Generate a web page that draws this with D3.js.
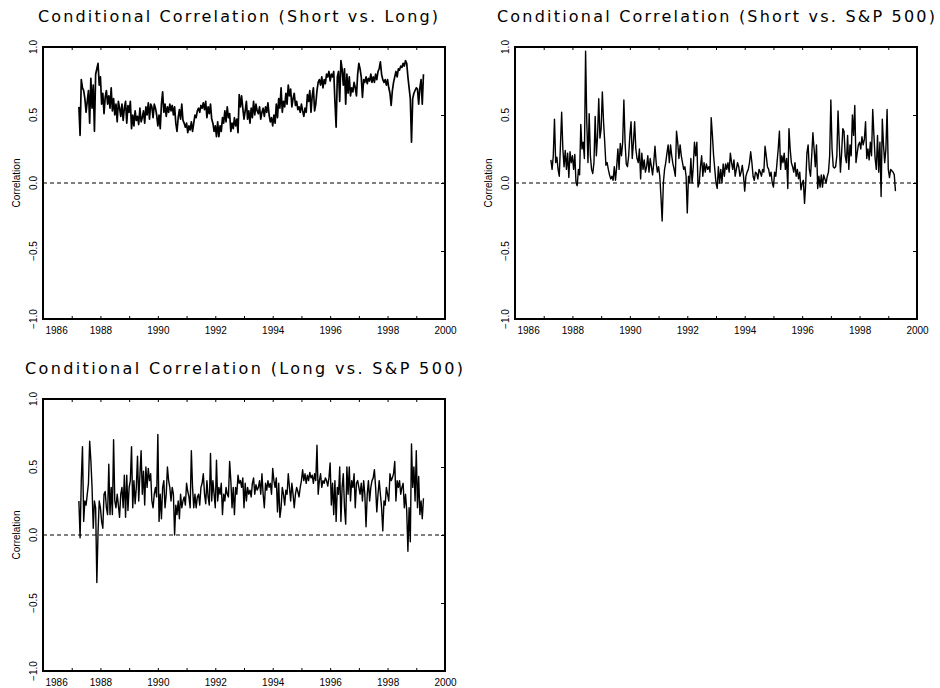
<!DOCTYPE html>
<html>
<head>
<meta charset="utf-8">
<script src="https://cdn.jsdelivr.net/npm/d3@7"></script>
<style>
  body { margin: 0; background: #fff; }
  svg text { font-family: "Liberation Sans", Arial, sans-serif; fill: #000; }
</style>
</head>
<body>
<div id="chart"></div>
<script>
//Size of the page
var width = 940,
  height = 688;

//Time axis: 24 observations a year, first one in spring 1987
var startYear = 1987.25,
  step = 1 / 24;
var yearTicks = d3.range(1986, 2001);
var corrTicks = [-1, -0.5, 0, 0.5, 1];

//Conditional correlation, short vs. long
var shortLong = [
  0.56, 0.35, 0.76, 0.70, 0.68, 0.62, 0.52, 0.60, 0.68, 0.44, 0.77, 0.55, 0.72, 0.38, 0.80, 0.84, 0.88, 0.72,
  0.78, 0.58, 0.66, 0.51, 0.63, 0.68, 0.58, 0.64, 0.55, 0.70, 0.53, 0.62,
  0.50, 0.58, 0.45, 0.60, 0.55, 0.49, 0.58, 0.46, 0.55, 0.60, 0.44, 0.57,
  0.52, 0.60, 0.40, 0.50, 0.42, 0.53, 0.46, 0.49, 0.43, 0.55, 0.45, 0.48,
  0.53, 0.44, 0.56, 0.50, 0.59, 0.47, 0.58, 0.56, 0.48, 0.58, 0.55, 0.50,
  0.42, 0.50, 0.40, 0.58, 0.67, 0.52, 0.58, 0.49, 0.56, 0.52, 0.58, 0.53,
  0.57, 0.50, 0.56, 0.44, 0.38, 0.48, 0.54, 0.47, 0.58, 0.46, 0.44, 0.41,
  0.44, 0.37, 0.42, 0.39, 0.45, 0.38, 0.44, 0.50, 0.48, 0.53, 0.55, 0.52,
  0.57, 0.55, 0.59, 0.54, 0.60, 0.48, 0.56, 0.51, 0.58, 0.47, 0.44, 0.38,
  0.42, 0.34, 0.45, 0.34, 0.42, 0.38, 0.48, 0.44, 0.53, 0.45, 0.56, 0.48,
  0.51, 0.38, 0.44, 0.40, 0.48, 0.42, 0.47, 0.37, 0.65, 0.56, 0.64, 0.55,
  0.47, 0.53, 0.60, 0.47, 0.53, 0.44, 0.55, 0.48, 0.60, 0.50, 0.58, 0.53,
  0.51, 0.56, 0.47, 0.52, 0.55, 0.49, 0.56, 0.52, 0.59, 0.50, 0.45, 0.48,
  0.42, 0.50, 0.44, 0.58, 0.48, 0.62, 0.55, 0.70, 0.52, 0.60, 0.56, 0.66,
  0.58, 0.72, 0.64, 0.69, 0.56, 0.62, 0.66, 0.57, 0.60, 0.54, 0.56, 0.52,
  0.58, 0.53, 0.49, 0.55, 0.52, 0.65, 0.60, 0.68, 0.52, 0.64, 0.70, 0.53,
  0.58, 0.68, 0.74, 0.76, 0.72, 0.78, 0.70, 0.76, 0.73, 0.80, 0.78, 0.82,
  0.75, 0.80, 0.78, 0.82, 0.60, 0.41, 0.78, 0.82, 0.60, 0.90, 0.84, 0.72,
  0.84, 0.58, 0.80, 0.66, 0.78, 0.64, 0.70, 0.67, 0.74, 0.70, 0.64, 0.80,
  0.88, 0.84, 0.78, 0.63, 0.76, 0.74, 0.78, 0.73, 0.77, 0.75, 0.80, 0.74,
  0.78, 0.74, 0.80, 0.76, 0.82, 0.84, 0.89, 0.80, 0.76, 0.74, 0.76, 0.72,
  0.76, 0.70, 0.66, 0.57, 0.68, 0.74, 0.78, 0.82, 0.78, 0.84, 0.83, 0.86,
  0.85, 0.88, 0.86, 0.90, 0.88, 0.78, 0.70, 0.62, 0.30, 0.62, 0.66, 0.68,
  0.70, 0.69, 0.58, 0.70, 0.76, 0.58, 0.80
];

//Conditional correlation, short vs. S&P 500
var shortSP = [
  0.17, 0.10, 0.20, 0.47, 0.15, 0.19, 0.10, 0.05, 0.28, 0.52, 0.25, 0.12, 0.24, 0.10, 0.22, 0.04, 0.23, 0.15,
  0.20, 0.10, 0.21, 0.00, -0.02, 0.10, 0.06, 0.43, 0.25, 0.30, 0.18, 0.97,
  0.45, 0.15, 0.51, 0.20, 0.10, 0.07, 0.15, 0.49, 0.20, 0.35, 0.62, 0.33,
  0.40, 0.67, 0.45, 0.30, 0.13, 0.15, 0.10, 0.06, 0.03, 0.05, 0.02, 0.12,
  0.02, 0.12, 0.25, 0.10, 0.29, 0.20, 0.30, 0.61, 0.30, 0.14, 0.12, 0.20,
  0.35, 0.45, 0.18, 0.30, 0.45, 0.25, 0.18, 0.15, 0.25, 0.03, 0.22, 0.10,
  0.17, 0.08, 0.12, 0.20, 0.08, 0.18, 0.12, 0.06, 0.15, 0.27, 0.15, 0.08,
  0.12, 0.05, -0.10, -0.28, 0.00, 0.10, 0.15, 0.22, 0.28, 0.15, 0.28, 0.20,
  0.14, 0.10, 0.05, 0.38, 0.30, 0.18, 0.28, 0.20, 0.15, 0.10, 0.12, 0.05,
  -0.22, 0.05, 0.00, 0.18, 0.00, 0.12, 0.30, 0.20, 0.30, -0.03, 0.00, 0.12,
  0.20, 0.05, 0.15, 0.08, 0.14, 0.10, 0.12, 0.08, 0.48, 0.35, 0.20, 0.10,
  0.00, -0.04, 0.12, 0.00, 0.10, 0.00, 0.14, 0.05, 0.14, 0.10, 0.15, 0.08,
  0.22, 0.15, 0.10, 0.17, 0.05, 0.10, 0.15, 0.12, 0.05, 0.08, 0.13, 0.05,
  -0.06, 0.05, 0.08, 0.10, 0.15, 0.23, 0.15, 0.05, 0.02, 0.08, 0.07, 0.03,
  0.10, 0.08, 0.05, 0.10, 0.08, 0.27, 0.20, 0.12, 0.10, 0.05, 0.08, 0.00,
  -0.03, 0.08, 0.05, 0.15, 0.25, 0.38, 0.10, 0.20, 0.15, 0.22, 0.10, 0.18,
  -0.04, 0.40, 0.25, 0.15, 0.12, 0.08, 0.15, 0.05, 0.10, 0.03, 0.08, -0.05,
  0.00, 0.02, -0.15, 0.00, 0.22, 0.28, 0.10, 0.05, 0.20, 0.37, 0.25, 0.12,
  0.28, -0.04, 0.05, -0.03, 0.06, -0.03, 0.06, 0.03, 0.00, 0.05, 0.08, 0.20,
  0.61, 0.25, 0.12, 0.11, 0.12, 0.20, 0.53, 0.30, 0.08, 0.22, 0.40, 0.38,
  0.20, 0.15, 0.35, 0.10, 0.28, 0.20, 0.50, 0.35, 0.57, 0.15, 0.22, 0.28,
  0.30, 0.25, 0.34, 0.28, 0.32, 0.45, 0.18, 0.25, 0.17, 0.30, 0.20, 0.54,
  0.35, 0.18, 0.10, 0.35, 0.08, 0.30, -0.10, 0.47, 0.28, 0.15, 0.25, 0.54,
  0.10, 0.04, 0.10, 0.09, 0.08, 0.06, -0.06
];

//Conditional correlation, long vs. S&P 500
var longSP = [
  0.25, -0.02, 0.40, 0.65, 0.10, 0.25, 0.22, 0.30, 0.38, 0.69, 0.55, 0.35, 0.05, 0.25, 0.20, -0.35, 0.02, 0.25,
  0.20, 0.10, 0.05, 0.30, 0.32, 0.20, 0.15, 0.52, 0.15, 0.35, 0.15, 0.70,
  0.25, 0.20, 0.30, 0.22, 0.13, 0.30, 0.35, 0.20, 0.44, 0.13, 0.44, 0.18,
  0.35, 0.40, 0.65, 0.20, 0.40, 0.23, 0.35, 0.58, 0.25, 0.44, 0.62, 0.30,
  0.47, 0.22, 0.50, 0.35, 0.49, 0.40, 0.45, 0.25, 0.20, 0.30, 0.35, 0.28,
  0.74, 0.10, 0.30, 0.12, 0.35, 0.40, 0.20, 0.30, 0.50, 0.40, 0.35, 0.25,
  0.35, 0.30, 0.00, 0.22, 0.15, 0.25, 0.12, 0.30, 0.20, 0.25, 0.28, 0.22,
  0.38, 0.32, 0.28, 0.20, 0.62, 0.35, 0.20, 0.30, 0.20, 0.28, 0.30, 0.22,
  0.35, 0.38, 0.45, 0.30, 0.23, 0.40, 0.28, 0.22, 0.60, 0.25, 0.40, 0.30,
  0.20, 0.55, 0.25, 0.35, 0.30, 0.38, 0.15, 0.30, 0.25, 0.35, 0.30, 0.28,
  0.54, 0.40, 0.20, 0.35, 0.15, 0.35, 0.30, 0.44, 0.38, 0.40, 0.35, 0.42,
  0.20, 0.38, 0.25, 0.35, 0.30, 0.33, 0.28, 0.38, 0.42, 0.30, 0.37, 0.33,
  0.35, 0.40, 0.30, 0.45, 0.30, 0.20, 0.38, 0.33, 0.40, 0.35, 0.38, 0.30,
  0.49, 0.40, 0.35, 0.42, 0.17, 0.38, 0.13, 0.20, 0.35, 0.30, 0.22, 0.33,
  0.30, 0.45, 0.35, 0.25, 0.38, 0.30, 0.20, 0.30, 0.35, 0.32, 0.28, 0.35,
  0.40, 0.48, 0.40, 0.45, 0.38, 0.44, 0.40, 0.46, 0.42, 0.44, 0.38, 0.45,
  0.40, 0.66, 0.30, 0.40, 0.45, 0.35, 0.40, 0.38, 0.42, 0.40, 0.36, 0.42,
  0.53, 0.22, 0.38, 0.15, 0.40, 0.10, 0.35, 0.30, 0.50, 0.10, 0.35, 0.45,
  0.20, 0.08, 0.50, 0.30, 0.50, 0.25, 0.40, 0.35, 0.45, 0.20, 0.38, 0.40,
  0.35, 0.30, 0.38, 0.25, 0.40, 0.30, 0.06, 0.30, 0.40, 0.25, 0.35, 0.40,
  0.42, 0.48, 0.35, 0.17, 0.30, 0.40, 0.30, 0.20, 0.03, 0.25, 0.22, 0.35,
  0.30, 0.25, 0.45, 0.40, 0.42, 0.45, 0.54, 0.25, 0.40, 0.35, 0.40, 0.30,
  0.35, 0.38, 0.20, 0.30, 0.18, -0.12, 0.20, -0.05, 0.67, 0.35, 0.50, 0.25,
  0.62, 0.20, 0.43, 0.15, 0.25, 0.12, 0.27
];

var titles = [
  "Conditional Correlation (Short vs. Long)",
  "Conditional Correlation (Short vs. S&P 500)",
  "Conditional Correlation (Long vs. S&P 500)"
];

//Where each panel goes
var panels = [
  { title: titles[0], values: shortLong, left: 43, top: 47, titleX: 38, titleLen: 400, lw: 1.7 },
  { title: titles[1], values: shortSP, left: 515, top: 47, titleX: 497, titleLen: 438, lw: 1.4 },
  { title: titles[2], values: longSP, left: 43, top: 399, titleX: 25, titleLen: 438, lw: 1.4 }
];
var plotW = 402,
  plotH = 272;

var svg = d3
  .select("#chart")
  .append("svg")
  .attr("width", width)
  .attr("height", height);

var fmt = d3.format(".1f");

panels.forEach(function (p) {
  var x = d3.scaleLinear().domain([1986, 2000]).range([p.left, p.left + plotW]);
  var y = d3.scaleLinear().domain([-1, 1]).range([p.top + plotH, p.top]);
  var g = svg.append("g");

  //title
  g.append("text")
    .attr("x", p.titleX)
    .attr("y", p.top - 25)
    .attr("textLength", p.titleLen)
    .attr("lengthAdjust", "spacing")
    .style("font-family", "'DejaVu Sans', sans-serif")
    .style("font-size", "16px")
    .text(p.title);

  //ticks pointing into the box
  g.append("g")
    .attr("transform", "translate(0," + (p.top + plotH) + ")")
    .call(
      d3.axisBottom(x)
        .tickValues(yearTicks)
        .tickSize(-3)
        .tickPadding(8)
        .tickFormat(function (d) {
          return d % 2 === 0 ? d : "";
        })
    )
    .call(function (a) {
      a.select(".domain").remove();
      a.selectAll("text").style("font-size", "10px");
      //first label sits right of the corner
      a.selectAll("text")
        .filter(function (d) { return d === 1986; })
        .attr("text-anchor", "start")
        .attr("x", 2);
    });

  g.append("g")
    .attr("transform", "translate(0," + p.top + ")")
    .call(d3.axisTop(x).tickValues(yearTicks).tickSize(-3).tickFormat(""))
    .call(function (a) { a.select(".domain").remove(); });

  g.append("g")
    .attr("transform", "translate(" + (p.left + plotW) + ",0)")
    .call(d3.axisRight(y).tickValues(corrTicks).tickSize(-4).tickFormat(""))
    .call(function (a) { a.select(".domain").remove(); });

  //rotated correlation labels on the left
  g.selectAll(".ylab")
    .data(corrTicks)
    .enter()
    .append("text")
    .attr("class", "ylab")
    .attr("transform", function (d) {
      return "translate(" + (p.left - 6) + "," + y(d) + ") rotate(-90)";
    })
    .attr("text-anchor", "middle")
    .style("font-size", "10px")
    .text(function (d) { return fmt(d); });

  g.append("text")
    .attr("transform", "translate(" + (p.left - 23) + "," + y(0) + ") rotate(-90)")
    .attr("text-anchor", "middle")
    .style("font-size", "10px")
    .text("Correlation");

  //zero line
  g.append("line")
    .attr("x1", p.left)
    .attr("x2", p.left + plotW)
    .attr("y1", y(0))
    .attr("y2", y(0))
    .attr("stroke", "#000")
    .attr("stroke-width", 1)
    .attr("stroke-dasharray", "4,3");

  var line = d3
    .line()
    .x(function (d, i) { return x(startYear + i * step); })
    .y(function (d) { return y(d); });

  g.append("path")
    .datum(p.values)
    .attr("d", line)
    .attr("fill", "none")
    .attr("stroke", "#000")
    .attr("stroke-width", p.lw)
    .attr("stroke-linejoin", "round");

  //frame
  g.append("rect")
    .attr("x", p.left)
    .attr("y", p.top)
    .attr("width", plotW)
    .attr("height", plotH)
    .attr("fill", "none")
    .attr("stroke", "#000")
    .attr("stroke-width", 2);
});
</script>
</body>
</html>
